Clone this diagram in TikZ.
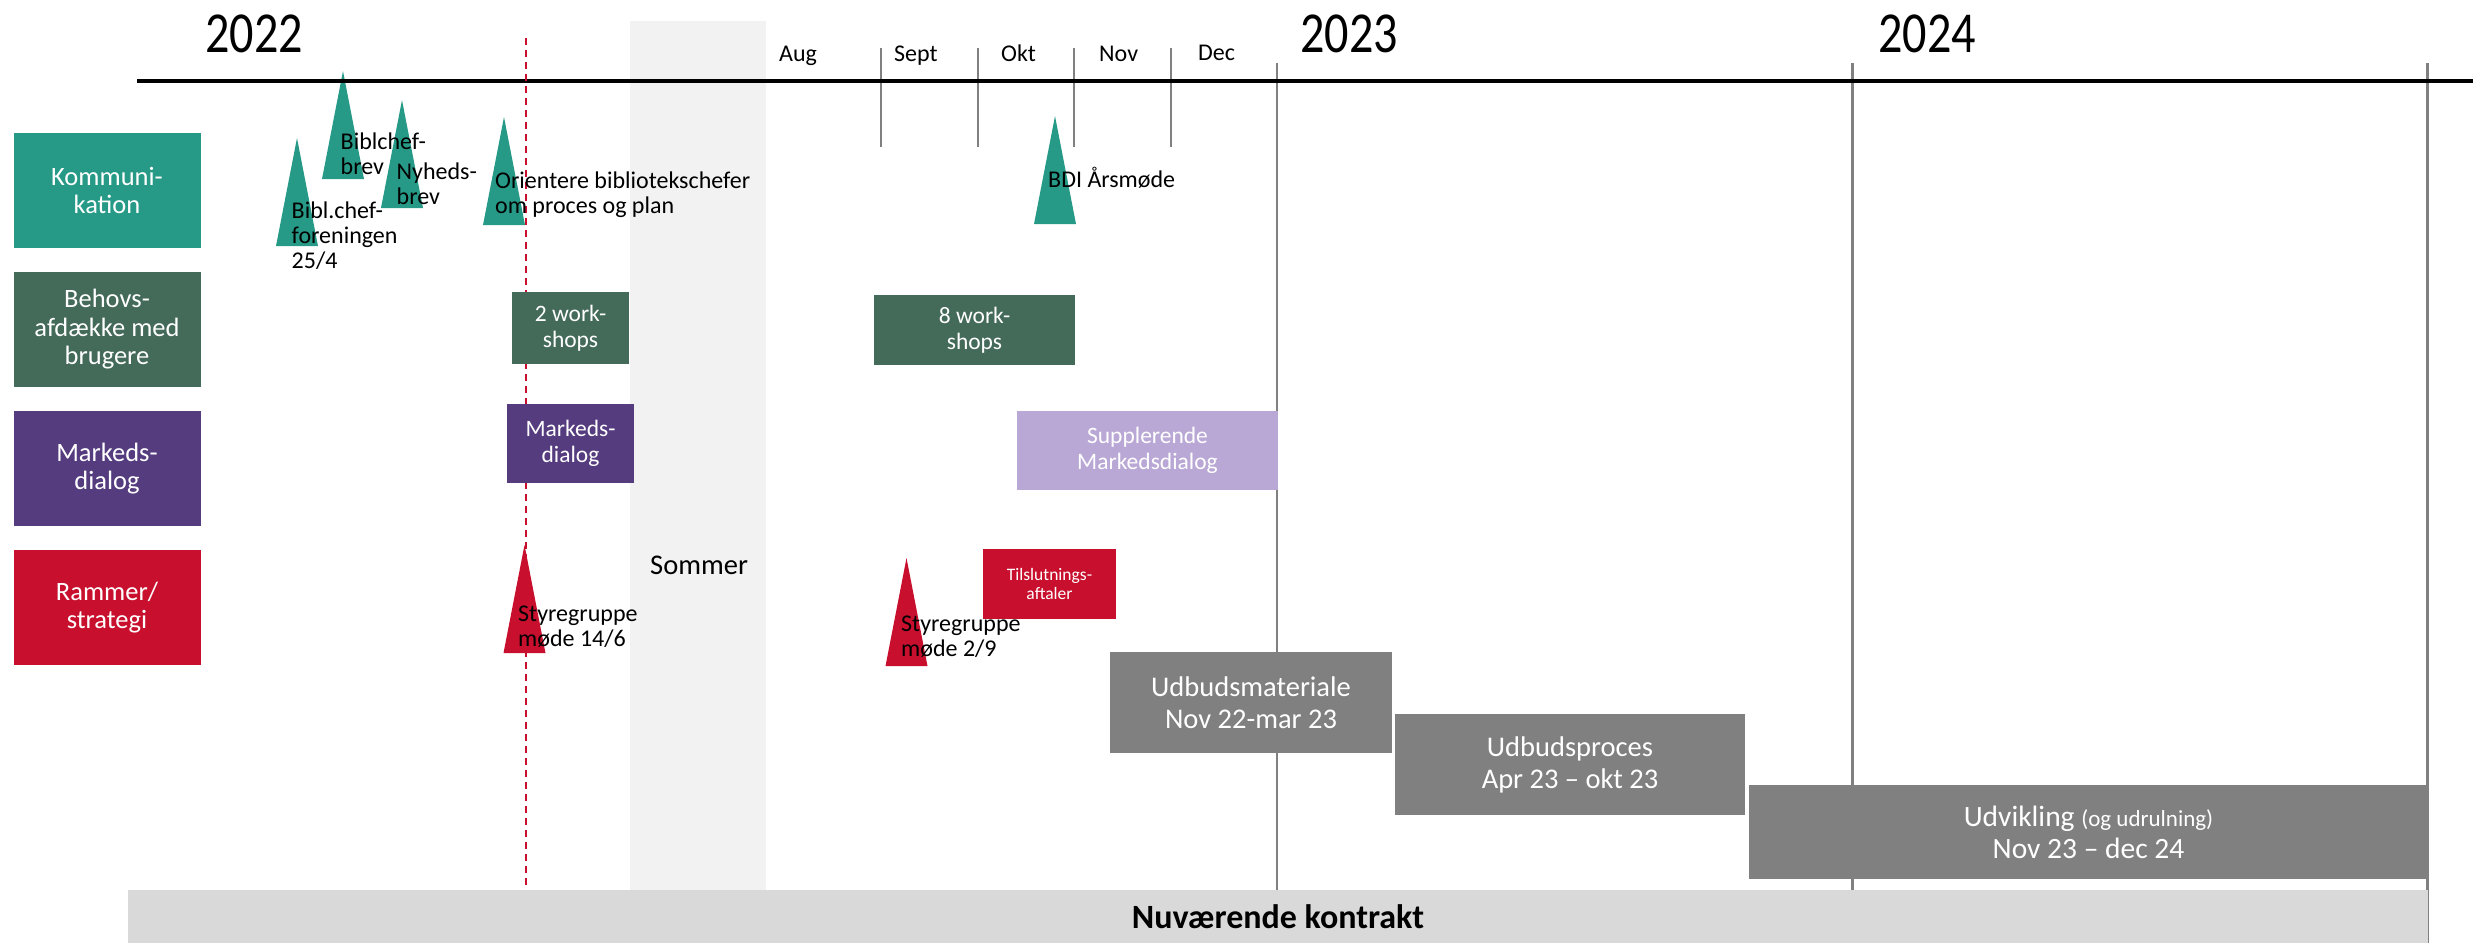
\documentclass[tikz,border=0pt]{standalone}
\usepackage{fontspec}
\setmainfont{Carlito}
\newfontfamily\yearfont[FakeStretch=0.83]{Carlito}
\definecolor{kteal}{HTML}{279987}
\definecolor{kgreen}{HTML}{446A5A}
\definecolor{kpurple}{HTML}{553C7F}
\definecolor{kred}{HTML}{C8102E}
\definecolor{klav}{HTML}{B9A8D5}
\definecolor{kgray}{HTML}{808080}
\definecolor{kbar}{HTML}{D9D9D9}
\definecolor{kband}{HTML}{F2F2F2}
\newcommand\fsz[2]{\fontsize{#1}{#2}\selectfont}
\tikzset{
  box/.style={rectangle, inner sep=0pt, align=center, text=white},
  rowlabel/.style={box, minimum width=187pt, minimum height=115pt, font=\fsz{26.5}{28.5}},
  smallbox/.style={box, font=\fsz{23.5}{26}},
  phasebox/.style={box, fill=kgray, font=\fsz{28.5}{32}},
  % multi-line notes are anchored at the baseline of their last line
  note/.style={inner sep=0pt, align=left, anchor=base west, font=\fsz{24}{25}},
  month/.style={inner sep=0pt, anchor=base west, font=\fsz{24}{26}},
  year/.style={inner sep=0pt, anchor=base west, font=\yearfont\fsz{58}{60}},
  gridline/.style={draw=kgray, line width=2.5pt},
  milestone/.style={fill=#1},
}
% milestone triangle: apex x, apex y, colour
\newcommand\marker[3]{\fill[milestone=#3] (#1,#2) -- (#1+21,#2+108) -- (#1-21,#2+108) -- cycle;}
\begin{document}
\begin{tikzpicture}[x=1pt, y=-1pt]
\useasboundingbox (0,0) rectangle (2473,943);

% summer break band
\fill[kband] (630,21) rectangle (766,891);

% year and month grid lines
\draw[gridline] (1277,63) -- (1277,890);
\draw[gridline] (1852.5,63) -- (1852.5,890);
\draw[gridline] (2427.5,63) -- (2427.5,943);
\foreach \mx in {881,978,1074,1171}
  \draw[gridline] (\mx,48) -- (\mx,147);

% milestones
\marker{297}{138}{kteal}
\marker{343}{71}{kteal}
\marker{402}{100}{kteal}
\marker{504}{117}{kteal}
\marker{1055}{116}{kteal}
\marker{524.5}{545}{kred}
\marker{906.5}{558}{kred}

% main time axis
\draw[line width=3.5pt] (137,81) -- (2473,81);

% today marker
\draw[kred, line width=2.3pt, dash pattern=on 7pt off 5pt] (526,38) -- (526,891);

% years and months
\node[year] (y22) at (205,52) {2022};
\node[year] (y23) at (1300,52) {2023};
\node[year] (y24) at (1878,52) {2024};
\node[month] (mAug) at (779,61) {Aug};
\node[month] (mSep) at (894,61) {Sept};
\node[month] (mOkt) at (1001,61) {Okt};
\node[month] (mNov) at (1099,61) {Nov};
\node[month] (mDec) at (1198,60) {Dec};

% row labels
\node[rowlabel, fill=kteal] (kom) at (107,190.5) {Kommuni-\\kation};
\node[rowlabel, fill=kgreen] (beh) at (107,329.5) {Behovs-\\afdække med\\brugere};
\node[rowlabel, fill=kpurple] (mar) at (107,468.5) {Markeds-\\dialog};
\node[rowlabel, fill=kred] (ram) at (107,607.5) {Rammer/\\strategi};

% activities
\node[smallbox, fill=kgreen, minimum width=117pt, minimum height=72pt] (ws2) at (570.5,328) {2 work-\\shops};
\node[smallbox, fill=kpurple, minimum width=127pt, minimum height=79pt] (md) at (570.5,443.5) {Markeds-\\dialog};
\node[smallbox, fill=kgreen, minimum width=201pt, minimum height=70pt] (ws8) at (974.5,330) {8 work-\\shops};
\node[smallbox, fill=klav, minimum width=261pt, minimum height=79pt] (sup) at (1147.5,450.5) {Supplerende\\Markedsdialog};
\node[box, fill=kred, minimum width=133pt, minimum height=70pt, font=\fsz{17.5}{19}] (til) at (1049.5,584) {Tilslutnings-\\aftaler};

% tender phases
\node[phasebox, minimum width=282pt, minimum height=101pt] (udm) at (1251,702.5) {Udbudsmateriale\\Nov 22-mar 23};
\node[phasebox, minimum width=350pt, minimum height=101pt] (udp) at (1570,764.5) {Udbudsproces\\Apr 23 – okt 23};
\node[phasebox, minimum width=679pt, minimum height=94pt, font=\fsz{29.5}{32}] (udv) at (2088.5,832) {Udvikling {\fsz{23}{25}(og udrulning)}\\Nov 23 – dec 24};

% current contract
\node[rectangle, fill=kbar, inner sep=0pt, minimum width=2300pt, minimum height=53pt, font=\bfseries\fsz{34}{36}] (kon) at (1278,916.5) {Nuværende kontrakt};

% milestone notes
\node[note] (n1) at (291.5,268) {Bibl.chef-\\foreningen\\25/4};
\node[note] (n2) at (340.5,174) {Biblchef-\\brev};
\node[note] (n3) at (396.5,204) {Nyheds-\\brev};
\node[note] (n4) at (495,213) {Orientere bibliotekschefer\\om proces og plan};
\node[note] (n5) at (1048,187) {BDI Årsmøde};
\node[note] (n6) at (518,646) {Styregruppe\\møde 14/6};
\node[note] (n7) at (901,656) {Styregruppe\\møde 2/9};
\node[note, font=\fsz{28.5}{30}] (som) at (650,574) {Sommer};
\end{tikzpicture}
\end{document}
